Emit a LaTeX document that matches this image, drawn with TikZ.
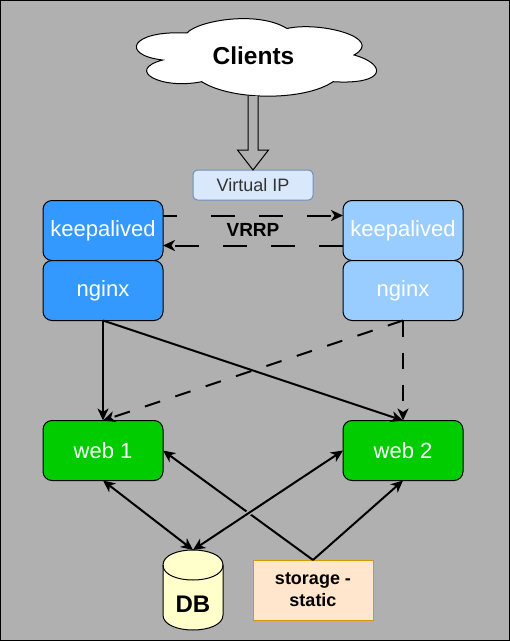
\documentclass[tikz,border=0pt]{standalone}
\usepackage{fontspec}
\setmainfont{Liberation Sans}
\usetikzlibrary{arrows.meta,calc}
\definecolor{bg}{HTML}{B0B0B0}
\definecolor{blueA}{HTML}{3399FF}
\definecolor{blueB}{HTML}{99CCFF}
\definecolor{greenA}{HTML}{00CC00}
\definecolor{vipfill}{HTML}{DAE8FC}
\definecolor{vipline}{HTML}{6C8EBF}
\definecolor{stfill}{HTML}{FFE6CC}
\definecolor{stline}{HTML}{D79B00}
\definecolor{dbfill}{HTML}{FFFFCC}
\definecolor{vipink}{HTML}{333333}
\tikzset{
  box/.style={draw=black,line width=1pt,rounded corners=9pt,minimum width=120pt,minimum height=60pt,inner sep=0pt,outer sep=0pt,text=white,font=\fontsize{22}{26}\selectfont},
  blue1/.style={box,fill=blueA},
  blue2/.style={box,fill=blueB},
  web/.style={box,fill=greenA},
  link/.style={line width=2pt,black,-{Stealth[length=12pt,width=11pt,inset=3.5pt]}},
  twoway/.style={line width=2pt,black,{Stealth[length=12pt,width=11pt,inset=3.5pt]}-{Stealth[length=12pt,width=11pt,inset=3.5pt]}},
  dashlink/.style={link,dash pattern=on 16pt off 16pt},
  vrrpA/.style={link,dash pattern=on 14pt off 34pt on 24pt off 24pt on 24pt off 24pt on 24pt off 24pt},
  vrrpB/.style={link,dash pattern=on 24pt off 24pt},
  plain/.style={inner sep=0pt,outer sep=0pt},
}
\begin{document}
\begin{tikzpicture}[x=1pt,y=-1pt]
\useasboundingbox (0,0) rectangle (510,641);
\draw[black,line width=1pt,fill=bg] (0.5,0.5) rectangle (509.5,640.5);

% cloud
\draw[black,line width=1pt,fill=white]
  (187,33) .. controls (197,21) and (257,10) .. (287,28.5)
  .. controls (320,21) and (385,38) .. (354,55)
  .. controls (387,64) and (387,85) .. (333,81.7)
  .. controls (305,101) and (232,101) .. (201.7,81.7)
  .. controls (160,90) and (125,70) .. (162.7,60)
  .. controls (120,55) and (130,30) .. (187,33) -- cycle;
\node[plain,minimum width=240pt,minimum height=78pt] (cloud) at (257,57) {};
\node[plain,font=\bfseries\fontsize{24.5}{29}\selectfont] (clients) at (253.5,55.5) {Clients};

% boxes
\node[plain,draw=vipline,line width=1pt,fill=vipfill,rounded corners=4.5pt,minimum width=120pt,minimum height=30pt,text=vipink,font=\fontsize{18}{22}\selectfont] (vip) at (253,185) {Virtual IP};
\node[blue1] (kl) at (103,230.5) {keepalived};
\node[blue1] (nl) at (103,290.5) {nginx};
\node[blue2] (kr) at (403,230.5) {keepalived};
\node[blue2] (nr) at (403,290.5) {nginx};
\node[web] (w1) at (103,450.5) {web 1};
\node[web] (w2) at (403,450.5) {web 2};

% big hollow arrow
\coordinate (cb) at (vip.north |- 0,96);
\draw[black,line width=1pt,fill=bg,line join=miter]
  ($(cb)+(-5,0)$) -- ($(vip.north)+(-5,-20)$) -- ($(vip.north)+(-15.5,-20)$) -- (vip.north)
  -- ($(vip.north)+(15.5,-20)$) -- ($(vip.north)+(5,-20)$) -- ($(cb)+(5,0)$);

% database
\draw[black,line width=1pt,fill=dbfill]
  (163,565) .. controls (163,545) and (223,545) .. (223,565) -- (223,615)
  .. controls (223,635) and (163,635) .. (163,615) -- cycle;
\draw[black,line width=1pt] (163,565) .. controls (163,585) and (223,585) .. (223,565);
\coordinate (db) at (193,550);
\node[plain,font=\bfseries\fontsize{24}{28}\selectfont] (dbtext) at (193,604) {DB};

% storage
\node[plain,draw=stline,line width=1pt,fill=stfill,minimum width=120pt,minimum height=60pt,align=center,font=\bfseries\fontsize{18}{22}\selectfont] (st) at (313,590) {storage -\\static};

% VRRP
\coordinate (kla) at ($(kl.north east)!0.25!(kl.south east)$);
\coordinate (klb) at ($(kl.north east)!0.75!(kl.south east)$);
\coordinate (kra) at ($(kr.north west)!0.25!(kr.south west)$);
\coordinate (krb) at ($(kr.north west)!0.75!(kr.south west)$);
\draw[vrrpA] (kla) -- (kra);
\draw[vrrpB] (krb) -- (klb);
\node[plain,font=\bfseries\fontsize{19}{23}\selectfont] (vrrp) at (253,230) {VRRP};

% connectors
\draw[dashlink] (nr.south) -- (w1.north);
\draw[dashlink] (nr.south) -- (w2.north);
\draw[link] (nl.south) -- (w1.north);
\draw[link] (nl.south) -- (w2.north);
\draw[twoway] (w1.south) -- (db);
\draw[link] (st.north) -- (w1.east);
\draw[bg,line width=5pt,shorten >=40pt,shorten <=40pt] (w2.west) -- (db);
\draw[twoway] (w2.west) -- (db);
\draw[link] (st.north) -- (w2.south);
\end{tikzpicture}
\end{document}
